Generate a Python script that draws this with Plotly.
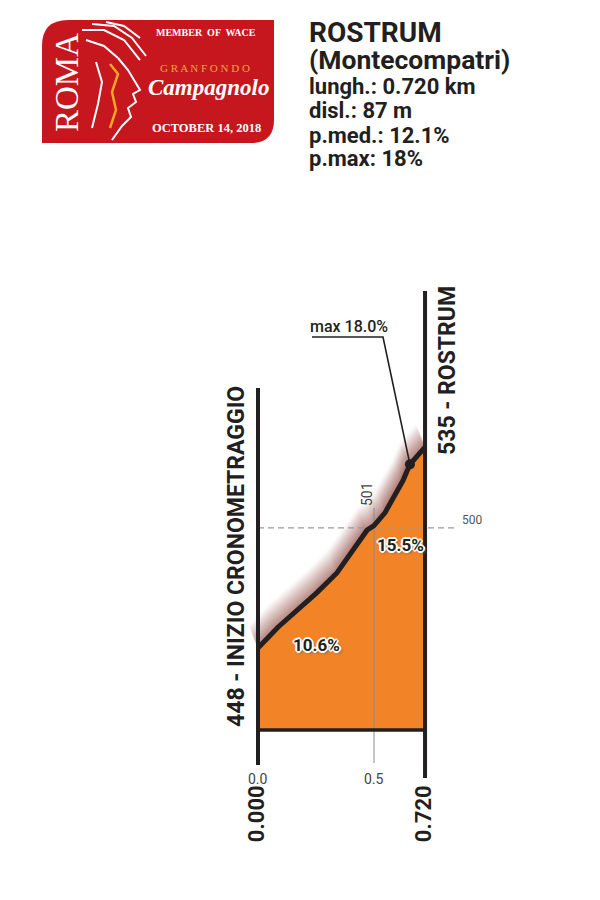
import plotly.graph_objects as go

# ---------------- data ----------------
distance_km = [0.0, 0.086, 0.254, 0.340, 0.470, 0.500, 0.547, 0.625, 0.655, 0.720]
elevation_m = [448, 457, 472, 480.5, 499, 501, 506.5, 520.5, 527.5, 535]
base_elev = 412.5
ref_elev = 500
mid_km = 0.5
mid_elev_label = "501"
gradient_labels = ["10.6%", "15.5%"]
gradient_km = [0.25, 0.616]
gradient_m = [449.3, 492.6]
max_km = 0.655
max_elev = 527.5
max_label = "max 18.0%"
tick_km = [0.0, 0.5]
tick_labels = ["0.0", "0.5"]
end_km = [0.0, 0.720]
end_labels = ["0.000", "0.720"]
start_label = "448 - INIZIO CRONOMETRAGGIO"
end_label = "535 - ROSTRUM"
header_lines = ["ROSTRUM", "(Montecompatri)", "lungh.: 0.720 km", "disl.: 87 m",
                "p.med.: 12.1%", "p.max: 18%"]

# ---------------- geometry helpers (pixel -> data/paper) ----------------
W, H = 600, 900
PX_PER_KM = 232.0
X0_PX = 258.0
PX_PER_M = 2.31
Y0_PX = 648.0  # pixel row of first elevation
x_range = [-X0_PX / PX_PER_KM, (W - X0_PX) / PX_PER_KM]
y_top = elevation_m[0] + Y0_PX / PX_PER_M
y_range = [y_top - H / PX_PER_M, y_top]


def px(xp):
    return (xp - X0_PX) / PX_PER_KM


def py(yp):
    return y_top - yp / PX_PER_M


def fx(xp):
    return xp / W


def fy(yp):
    return 1 - yp / H


FONT_N = "Roboto, 'Liberation Sans Narrow', 'DejaVu Sans Condensed', sans-serif"
INK = "#231F20"
ORANGE = "#F28327"

fig = go.Figure()

# glow above profile line (soft reddish shadow, fading outward)
n_glow = 16
for i in range(n_glow, 0, -1):
    dy = 0.6 * i
    dx = -0.0024 * i
    a = 0.26 * (1 - i / (n_glow + 1)) ** 1.2
    fig.add_trace(go.Scatter(x=[d + dx for d in distance_km],
                             y=[e + dy for e in elevation_m],
                             mode="lines",
                             line=dict(width=4, color=f"rgba(125,38,28,{a:.3f})"),
                             hoverinfo="skip", showlegend=False))

# filled profile (covers any glow spilling into the fill)
poly_x = [distance_km[0]] + distance_km + [distance_km[-1]]
poly_y = [base_elev] + elevation_m + [base_elev]
fig.add_trace(go.Scatter(x=poly_x, y=poly_y, fill="toself", fillcolor=ORANGE,
                         mode="lines", line=dict(width=0, color=ORANGE),
                         hoverinfo="skip", showlegend=False))

# vertical gray line at 0.5 km
fig.add_trace(go.Scatter(x=[mid_km, mid_km], y=[py(508), py(763)], mode="lines",
                         line=dict(width=1, color="#8a8a8a"), hoverinfo="skip", showlegend=False))

# dashed reference at 500 m
fig.add_trace(go.Scatter(x=[distance_km[0], px(455)], y=[ref_elev, ref_elev], mode="lines",
                         line=dict(width=1.2, color="#9a9a9a", dash="6px,4px"),
                         hoverinfo="skip", showlegend=False))

# profile line
fig.add_trace(go.Scatter(x=distance_km, y=elevation_m, mode="lines",
                         line=dict(width=5, color=INK), hoverinfo="skip", showlegend=False))

# frame lines
fig.add_trace(go.Scatter(x=[distance_km[0], distance_km[0]], y=[py(388), py(765)], mode="lines",
                         line=dict(width=4, color=INK), hoverinfo="skip", showlegend=False))
fig.add_trace(go.Scatter(x=[distance_km[-1], distance_km[-1]], y=[py(291), py(778)], mode="lines",
                         line=dict(width=4, color=INK), hoverinfo="skip", showlegend=False))
fig.add_trace(go.Scatter(x=[distance_km[0], distance_km[-1]], y=[base_elev, base_elev], mode="lines",
                         line=dict(width=3.5, color=INK), hoverinfo="skip", showlegend=False))

# max leader
fig.add_trace(go.Scatter(x=[max_km, px(383), px(312)], y=[max_elev, py(337), py(337)], mode="lines",
                         line=dict(width=1.6, color=INK), hoverinfo="skip", showlegend=False))
fig.add_trace(go.Scatter(x=[max_km], y=[max_elev], mode="markers",
                         marker=dict(size=10, color=INK), hoverinfo="skip", showlegend=False))

ann = []
outline = ("1px 1px 0 white, -1px -1px 0 white, 1px -1px 0 white, -1px 1px 0 white, "
           "2px 0 0 white, -2px 0 0 white, 0 2px 0 white, 0 -2px 0 white, 2px 2px 3px #666")
for lab, gx, gy in zip(gradient_labels, gradient_km, gradient_m):
    ann.append(dict(x=gx, y=gy, text=lab, showarrow=False, xanchor="center", yanchor="middle",
                    font=dict(family=FONT_N, size=17, color=INK, weight="bold", shadow=outline)))

ann.append(dict(x=px(349), y=py(326), text=max_label, showarrow=False,
                xanchor="center", yanchor="middle",
                font=dict(family=FONT_N, size=16, color=INK, weight=500)))
ann.append(dict(x=mid_km - 0.03, y=py(494), text=mid_elev_label, showarrow=False, textangle=-90,
                xanchor="center", yanchor="middle",
                font=dict(family=FONT_N, size=14, color="#444")))
ann.append(dict(x=px(472), y=ref_elev + 3.5, text=str(ref_elev), showarrow=False,
                xanchor="center", yanchor="middle",
                font=dict(family=FONT_N, size=12, color="#555")))
ann.append(dict(x=px(236), y=py(557), text=start_label, showarrow=False, textangle=-90,
                xanchor="center", yanchor="middle",
                font=dict(family=FONT_N, size=23, color=INK, weight="bold")))
ann.append(dict(x=px(447), y=py(371), text=end_label, showarrow=False, textangle=-90,
                xanchor="center", yanchor="middle",
                font=dict(family=FONT_N, size=23, color=INK, weight="bold")))
for k, t in zip(tick_km, tick_labels):
    ann.append(dict(x=k, y=py(779), text=t, showarrow=False, xanchor="center", yanchor="middle",
                    font=dict(family=FONT_N, size=14, color="#444")))
for k, t in zip(end_km, end_labels):
    ann.append(dict(x=k - 0.008, y=py(814), text=t, showarrow=False, textangle=-90,
                    xanchor="center", yanchor="middle",
                    font=dict(family=FONT_N, size=22, color=INK, weight="bold")))

# header text
header_y = [33, 59, 86, 110, 135, 159]
header_size = [28, 26.5, 22, 22, 22, 22]
for t, yy, sz in zip(header_lines, header_y, header_size):
    ann.append(dict(xref="paper", yref="paper", x=fx(307), y=fy(yy), text=t, showarrow=False,
                    xanchor="left", yanchor="middle",
                    font=dict(family=FONT_N, size=sz, color=INK, weight="bold")))

# ---------------- logo ----------------
RED = "#C6161E"


def P(xp, yp):
    return f"{fx(xp):.5f},{fy(yp):.5f}"


logo_path = (f"M {P(42, 46)} Q {P(42, 20)} {P(68, 20)} L {P(274, 20)} L {P(274, 120)} "
             f"Q {P(274, 143)} {P(251, 143)} L {P(42, 143)} Z")
shapes = [dict(type="path", xref="paper", yref="paper", path=logo_path,
               fillcolor=RED, line=dict(width=0), layer="below")]

# stylised face / helmet strokes
strokes = [
    [(82, 30), (104, 30), (124, 40), (140, 60)],
    [(92, 24), (114, 26), (132, 38), (146, 56)],
    [(106, 22), (124, 26), (140, 38)],
    [(86, 40), (104, 46), (118, 58)],
    [(118, 58), (128, 70), (134, 80), (140, 90), (133, 94), (136, 102), (128, 108),
     (131, 117), (122, 126), (112, 140)],
    [(96, 62), (102, 82), (98, 104), (92, 128)],
]
for s in strokes:
    d = "M " + " L ".join(P(a, b) for a, b in s)
    shapes.append(dict(type="path", xref="paper", yref="paper", path=d,
                       line=dict(color="white", width=2)))
shapes.append(dict(type="path", xref="paper", yref="paper",
                   path="M " + " L ".join(P(a, b) for a, b in [(110, 64), (118, 74), (112, 92), (116, 110), (110, 128)]),
                   line=dict(color="#F5A623", width=2.5)))

SERIF = "Liberation Serif, DejaVu Serif, serif"
ann.append(dict(xref="paper", yref="paper", x=fx(67), y=fy(83), text="ROMA", showarrow=False,
                textangle=-90, xanchor="center", yanchor="middle",
                font=dict(family=SERIF, size=33, color="white")))
ann.append(dict(xref="paper", yref="paper", x=fx(206), y=fy(32), text="MEMBER  OF  WACE",
                showarrow=False, xanchor="center", yanchor="middle",
                font=dict(family=SERIF, size=10, color="white", weight="bold")))
ann.append(dict(xref="paper", yref="paper", x=fx(205), y=fy(68), text="G R A N F O N D O",
                showarrow=False, xanchor="center", yanchor="middle",
                font=dict(family=SERIF, size=11, color="#F4A340")))
ann.append(dict(xref="paper", yref="paper", x=fx(208), y=fy(87), text="<i>Campagnolo</i>",
                showarrow=False, xanchor="center", yanchor="middle",
                font=dict(family=SERIF, size=23, color="white", weight="bold")))
ann.append(dict(xref="paper", yref="paper", x=fx(207), y=fy(128), text="OCTOBER 14, 2018",
                showarrow=False, xanchor="center", yanchor="middle",
                font=dict(family=SERIF, size=12.5, color="white", weight="bold")))

fig.update_layout(
    width=W, height=H, margin=dict(l=0, r=0, t=0, b=0),
    paper_bgcolor="white", plot_bgcolor="white",
    xaxis=dict(range=x_range, visible=False, fixedrange=True),
    yaxis=dict(range=y_range, visible=False, fixedrange=True),
    showlegend=False, annotations=ann, shapes=shapes,
)

fig.write_html("out.html")
